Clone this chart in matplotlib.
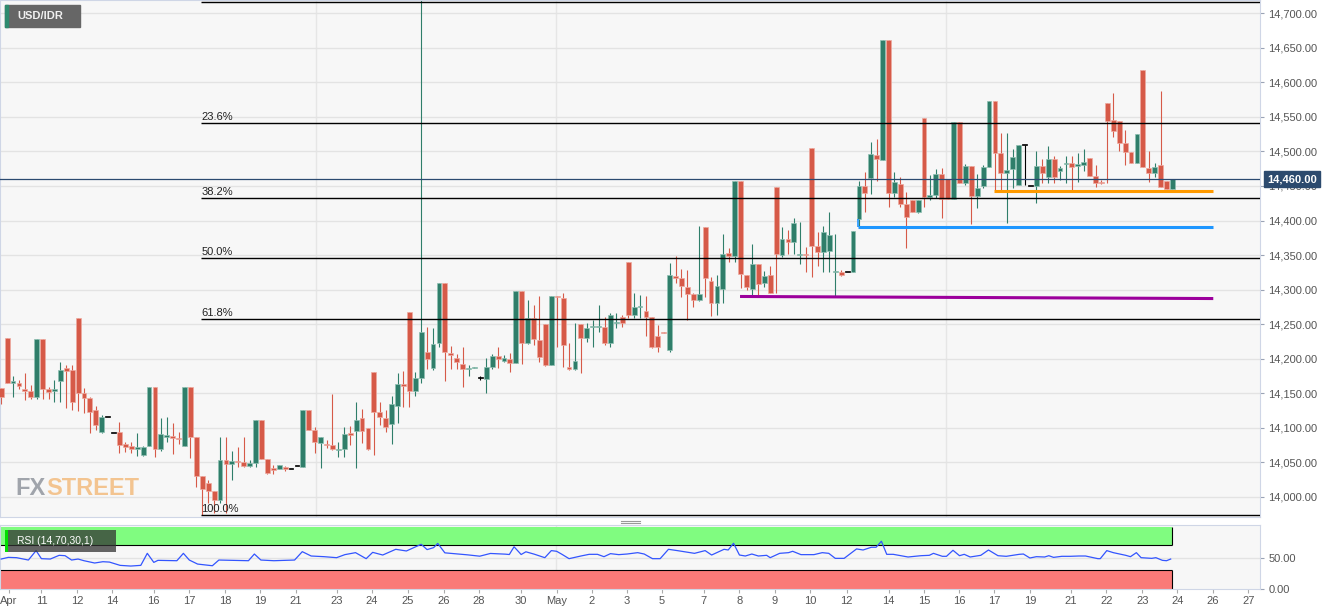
import numpy as np
import matplotlib.pyplot as plt
from matplotlib.patches import Rectangle
from matplotlib.lines import Line2D

plt.rcParams['font.family'] = ['Liberation Sans', 'DejaVu Sans']

# USD/IDR 4H candles, 10 Apr - 23 May
opens = [14157, 14230, 14165, 14165, 14156, 14153, 14144, 14228, 14156, 14153,
         14168, 14186, 14184, 14259, 14150, 14143, 14126, 14094, 14116, 14092,
         14094, 14076, 14073, 14069, 14060, 14073, 14159, 14069, 14087, 14088,
         14085, 14073, 14159, 14087, 14030, 14020, 14008, 13995, 14053, 14047,
         14052, 14050, 14045, 14049, 14111, 14055, 14042, 14040, 14043, 14040,
         14045, 14043, 14126, 14097, 14078, 14076, 14075, 14068, 14069, 14092,
         14095, 14114, 14100, 14181, 14123, 14114, 14105, 14131, 14163, 14268,
         14153, 14172, 14210, 14186, 14223, 14310, 14208, 14201, 14192, 14185,
         14186, 14172, 14171, 14188, 14204, 14197, 14200, 14194, 14298, 14223,
         14259, 14227, 14250, 14191, 14291, 14288, 14188, 14185, 14250, 14230,
         14246, 14246, 14246, 14223, 14252, 14260, 14340, 14263, 14275, 14269,
         14260, 14233, 14239, 14213, 14320, 14317, 14304, 14294, 14285, 14391,
         14312, 14281, 14301, 14353, 14349, 14457, 14321, 14301, 14337, 14310,
         14321, 14449, 14350, 14373, 14369, 14350, 14352, 14505, 14363, 14354,
         14356, 14325, 14325, 14325, 14325, 14402, 14450, 14462, 14495, 14488,
         14661, 14440, 14453, 14424, 14430, 14412, 14548, 14434, 14437, 14467,
         14460, 14431, 14543, 14454, 14479, 14436, 14450, 14478, 14573, 14498,
         14469, 14475, 14451, 14509, 14450, 14450, 14479, 14463, 14489, 14472,
         14482, 14483, 14479, 14480, 14491, 14465, 14456, 14570, 14546, 14544,
         14512, 14499, 14483, 14618, 14476, 14469, 14480, 14457, 14446]
highs = [14157, 14230, 14175, 14169, 14179, 14162, 14228, 14228, 14159, 14169,
         14195, 14191, 14191, 14259, 14157, 14144, 14131, 14118, 14116, 14092,
         14108, 14079, 14079, 14092, 14073, 14159, 14159, 14114, 14116, 14107,
         14094, 14159, 14159, 14087, 14030, 14024, 14008, 14087, 14087, 14066,
         14072, 14087, 14053, 14111, 14111, 14055, 14046, 14046, 14045, 14040,
         14045, 14126, 14126, 14101, 14087, 14082, 14149, 14079, 14101, 14102,
         14137, 14127, 14100, 14181, 14137, 14126, 14146, 14179, 14182, 14268,
         14181, 14780, 14246, 14244, 14310, 14310, 14218, 14207, 14217, 14191,
         14188, 14175, 14201, 14207, 14217, 14205, 14208, 14298, 14298, 14285,
         14278, 14291, 14250, 14291, 14291, 14295, 14223, 14252, 14250, 14252,
         14256, 14278, 14260, 14266, 14266, 14263, 14340, 14295, 14292, 14291,
         14260, 14249, 14239, 14339, 14349, 14330, 14328, 14295, 14392, 14391,
         14318, 14321, 14381, 14360, 14457, 14457, 14321, 14366, 14337, 14327,
         14334, 14449, 14391, 14386, 14404, 14398, 14362, 14505, 14383, 14392,
         14412, 14381, 14328, 14325, 14385, 14457, 14470, 14514, 14518, 14661,
         14661, 14470, 14463, 14441, 14430, 14430, 14548, 14466, 14475, 14476,
         14460, 14543, 14543, 14482, 14479, 14467, 14480, 14573, 14573, 14527,
         14527, 14504, 14509, 14509, 14450, 14501, 14489, 14508, 14493, 14479,
         14493, 14493, 14498, 14504, 14491, 14480, 14459, 14570, 14585, 14544,
         14531, 14499, 14525, 14618, 14501, 14483, 14588, 14457, 14460]
lows = [14134, 14165, 14144, 14156, 14140, 14142, 14142, 14142, 14142, 14137,
        14137, 14129, 14126, 14124, 14121, 14092, 14097, 14092, 14116, 14092,
        14063, 14065, 14063, 14059, 14059, 14073, 14058, 14066, 14079, 14062,
        14076, 14073, 14056, 14014, 13973, 13991, 13977, 13991, 13977, 14024,
        14043, 14043, 14043, 14043, 14055, 14033, 14033, 14040, 14037, 14040,
        14045, 14043, 14097, 14063, 14042, 14071, 14068, 14058, 14058, 14075,
        14042, 14078, 14068, 14061, 14104, 14094, 14076, 14107, 14130, 14130,
        14146, 14165, 14185, 14184, 14217, 14168, 14185, 14185, 14159, 14175,
        14186, 14169, 14150, 14185, 14186, 14195, 14181, 14194, 14192, 14221,
        14220, 14195, 14189, 14191, 14217, 14188, 14184, 14184, 14179, 14224,
        14217, 14239, 14220, 14217, 14244, 14246, 14259, 14259, 14259, 14233,
        14215, 14210, 14237, 14210, 14310, 14289, 14256, 14275, 14284, 14289,
        14262, 14263, 14281, 14340, 14340, 14302, 14299, 14289, 14292, 14304,
        14295, 14295, 14347, 14352, 14352, 14337, 14325, 14318, 14334, 14325,
        14325, 14289, 14320, 14325, 14325, 14391, 14412, 14438, 14457, 14488,
        14420, 14434, 14420, 14360, 14412, 14411, 14420, 14430, 14433, 14404,
        14431, 14431, 14454, 14451, 14395, 14418, 14447, 14478, 14444, 14444,
        14396, 14447, 14451, 14451, 14450, 14425, 14454, 14454, 14454, 14459,
        14454, 14444, 14456, 14472, 14465, 14449, 14453, 14454, 14521, 14501,
        14480, 14483, 14483, 14477, 14456, 14463, 14449, 14446, 14446]
closes = [14144, 14165, 14168, 14160, 14153, 14144, 14228, 14156, 14152, 14156,
          14184, 14182, 14137, 14150, 14143, 14123, 14104, 14116, 14116, 14092,
          14075, 14072, 14069, 14072, 14072, 14159, 14069, 14091, 14089, 14085,
          14084, 14159, 14087, 14030, 14011, 14008, 13995, 14053, 14047, 14052,
          14050, 14045, 14049, 14111, 14055, 14034, 14039, 14046, 14040, 14040,
          14045, 14126, 14097, 14079, 14087, 14075, 14069, 14069, 14091, 14089,
          14111, 14095, 14069, 14123, 14116, 14101, 14134, 14163, 14160, 14153,
          14172, 14239, 14200, 14221, 14310, 14210, 14205, 14195, 14185, 14186,
          14188, 14172, 14188, 14204, 14200, 14201, 14194, 14298, 14223, 14259,
          14228, 14202, 14191, 14291, 14289, 14220, 14185, 14197, 14230, 14244,
          14247, 14247, 14223, 14263, 14253, 14252, 14263, 14275, 14276, 14260,
          14217, 14217, 14237, 14321, 14317, 14305, 14294, 14285, 14294, 14317,
          14281, 14305, 14352, 14349, 14457, 14323, 14304, 14337, 14308, 14320,
          14295, 14352, 14373, 14369, 14396, 14352, 14350, 14363, 14354, 14383,
          14379, 14327, 14321, 14325, 14385, 14450, 14440, 14496, 14489, 14661,
          14440, 14456, 14424, 14405, 14412, 14430, 14434, 14437, 14467, 14431,
          14431, 14543, 14454, 14479, 14436, 14447, 14478, 14573, 14498, 14469,
          14473, 14492, 14509, 14509, 14450, 14479, 14469, 14489, 14463, 14476,
          14483, 14478, 14482, 14485, 14465, 14454, 14454, 14544, 14530, 14512,
          14499, 14483, 14525, 14477, 14469, 14477, 14449, 14446, 14460]

last_price = 14460

# fibonacci retracement
fib_high = 14717
fib_low = 13973
fib_ratios = [0.0, 0.236, 0.382, 0.5, 0.618, 1.0]
fib_labels = ['', '23.6%', '38.2%', '50.0%', '61.8%', '100.0%']
fib_start = 33.8

# support lines (candle index / price)
sup_x0 = [167.8, 144.9, 124.9]
sup_x1 = [204.9, 204.9, 204.9]
sup_y0 = [14443, 14391, 14290]
sup_y1 = [14443, 14391, 14287]
sup_colors = ['#ff9a00', '#1e96ff', '#9c009c']

# RSI(14) readings
rsi_x = [0, 1.2, 2.6, 4.6, 5.9, 6.8, 8.3, 9.8, 10.8, 11.9,
         13.0, 14.0, 15.8, 17.2, 18.3, 20.1, 21.9, 23.6, 24.7, 25.8,
         26.5, 29.7, 30.8, 31.8, 33.2, 35.7, 36.8, 41.8, 42.8, 43.9,
         46.1, 49.6, 50.9, 52.4, 54.6, 56.7, 58.1, 59.9, 61.7, 62.8,
         64.5, 66.7, 68.5, 71.0, 72.0, 73.1, 73.8, 75.0, 77.4, 78.8,
         80.9, 82.7, 85.2, 85.9, 86.7, 87.9, 88.7, 90.1, 91.9, 93.0,
         93.9, 94.8, 96.0, 98.0, 99.4, 100.8, 101.9, 103.0, 104.4, 105.8,
         107.6, 108.7, 110.1, 111.4,
         112.8, 114.3, 117.2, 119.0, 120.1, 122.2, 122.9, 123.8, 124.8, 125.8,
         126.9, 128.0, 129.4, 130.0, 131.6, 133.1, 133.8, 135.2, 137.4, 138.8,
         139.9, 141.0, 142.5, 144.6, 145.7, 147.1, 147.9, 148.8, 149.7, 150.8,
         153.3, 155.5, 156.9, 157.6, 159.1, 159.8, 160.9, 162.0, 162.8, 163.8,
         165.6, 166.9, 168.5, 169.9, 172.1, 172.8, 173.9, 175.0, 176.4, 177.1,
         177.9, 179.3, 180.7, 182.2, 183.3, 185.4, 185.8, 186.9, 188.0, 190.1,
         190.9, 191.9, 192.7, 194.5, 195.2, 196.3, 197.0, 197.7]
rsi_val = [47.8, 50.5, 50.0, 46.2, 61.4, 48.4, 47.8, 53.8, 53.2, 46.2,
           47.8, 45.1, 41.4, 43.5, 42.9, 37.6, 36.5, 37.6, 57.0, 42.4,
           45.7, 45.1, 57.0, 46.2, 39.7, 37.0, 46.2, 45.1, 55.9, 46.2,
           45.1, 46.2, 59.7, 52.7, 51.6, 50.0, 54.9, 58.1, 48.4, 58.6,
           54.3, 63.5, 60.8, 71.6, 63.0, 66.2, 73.0, 57.8, 55.7, 54.6,
           52.4, 56.8, 55.7, 55.1, 67.6, 55.1, 59.5, 55.7, 50.0, 61.4,
           60.3, 55.4, 48.4, 52.7, 55.4, 55.4, 51.6, 56.5, 54.9, 55.9,
           58.1, 55.9, 48.4, 48.4,
           63.5, 61.4, 57.0, 61.4, 54.3, 63.5, 62.4, 73.2, 54.3, 52.7,
           55.9, 52.7, 53.8, 50.0, 57.0, 58.1, 60.3, 54.9, 54.9, 58.1,
           57.0, 48.9, 48.9, 64.1, 62.4, 66.8, 66.8, 76.5, 55.4, 55.4,
           51.1, 53.2, 53.8, 57.0, 52.2, 52.2, 61.9, 53.2, 55.4, 51.1,
           53.8, 62.4, 53.2, 52.2, 55.4, 55.9, 49.5, 51.6, 51.1, 53.2,
           50.5, 52.2, 52.2, 52.7, 52.7, 48.4, 48.4, 61.4, 58.1, 53.8,
           51.6, 58.1, 50.0, 48.9, 50.0, 45.7, 45.1, 47.8]
rsi_end = 197.9

xtick_labels = ['Apr', '11', '12', '14', '16', '17', '18', '19', '21', '23', '24', '25',
                '26', '28', '30', 'May', '2', '3', '5', '7', '8', '9', '10', '12', '14',
                '15', '16', '17', '19', '21', '22', '23', '24', '26', '27']
xtick_pos = [1.3, 6.8, 12.8, 18.7, 25.8, 31.8, 37.9, 43.8, 49.8, 56.7, 62.7, 68.7,
             74.8, 80.8, 87.8, 93.9, 99.8, 105.8, 111.7, 118.8, 124.8, 130.8, 136.8, 142.9, 150.0,
             156.0, 162.0, 167.8, 174.0, 180.8, 186.8, 192.9, 198.8, 204.8, 210.8]
vgrid = [53.2, 93.8, 159.7]

GREEN = '#2f7e6a'
RED = '#d65a48'
AXC = '#cfd6e6'

fig = plt.figure(figsize=(13.31, 6.15), dpi=100)
ax = fig.add_axes([0.0, 0.16016, 0.94666, 0.83984])
ax2 = fig.add_axes([0.0, 0.04179, 0.94666, 0.10455])

xmin, xmax = -0.2, 212.8

# ---- price panel ----
ax.set_facecolor('#f7f7f7')
ax.set_xlim(xmin, xmax)
ax.set_ylim(13971.4, 14719.3)
ax.set_yticks(np.arange(14000, 14701, 50))
ax.yaxis.set_major_formatter(plt.FuncFormatter(lambda v, p: f'{v:,.2f}'))
ax.yaxis.tick_right()
ax.tick_params(axis='y', length=3, color='#9aa3b5', labelsize=8, labelcolor='#555555', pad=3)
ax.set_xticks([])
ax.grid(axis='y', color='#e3e3e3', lw=1, zorder=0)
ax.set_axisbelow(True)
for v in vgrid:
    ax.axvline(v, color='#e6e6e6', lw=1, zorder=0)
for s in ax.spines.values():
    s.set_color(AXC)

# watermark (behind the candles)
fx = ax.text(0.0119, 0.0416, 'FX', transform=ax.transAxes, fontsize=17, fontweight='bold',
             color='#a0a4ab', va='baseline', ha='left', zorder=1)
ax.annotate('STREET', xy=(1, 0), xycoords=fx, xytext=(0.5, 0), textcoords='offset points',
            fontsize=17, fontweight='bold', color='#f3c490', va='bottom', ha='left', zorder=1)

o = np.array(opens); h = np.array(highs); l = np.array(lows); c = np.array(closes)
idx = np.arange(len(o))
cols = np.where(c > o, GREEN, np.where(c < o, RED, 'black'))
edges = np.where(c > o, '#8fc0b2', np.where(c < o, '#eeaaa0', 'black'))
ax.vlines(idx, l, h, colors=cols, lw=0.8, zorder=2)
body = np.maximum(np.abs(c - o), 1.2)
ax.bar(idx, body, bottom=np.minimum(o, c), width=0.82, color=cols,
       edgecolor=edges, linewidth=0.5, zorder=3)

# fibonacci levels
for r, lab in zip(fib_ratios, fib_labels):
    lvl = fib_high - r * (fib_high - fib_low)
    ax.hlines(lvl, fib_start, xmax, color='black', lw=1.0, zorder=4)
    if lab:
        ax.text(fib_start, lvl + 1.5, lab, fontsize=8, color='#222222',
                ha='left', va='bottom', zorder=4)

# support lines
for x0, x1, y0, y1, col in zip(sup_x0, sup_x1, sup_y0, sup_y1, sup_colors):
    ax.plot([x0, x1], [y0, y1], color=col, lw=2.2, solid_capstyle='butt', zorder=5)
ax.vlines(sup_x0[1], sup_y0[1], 14402, color=sup_colors[1], lw=1.2, zorder=5)

# last price
ax.axhline(last_price, color='#2b4a70', lw=0.9, zorder=5)
ax.annotate(f'{last_price:,.2f}', xy=(1, last_price), xycoords=('axes fraction', 'data'),
            xytext=(5.3, 0), textcoords='offset points', ha='left', va='center',
            fontsize=8, fontweight='bold', color='white', annotation_clip=False, zorder=10,
            bbox=dict(boxstyle='square,pad=0.3', fc='#2c4a6e', ec='#2c4a6e'))

# symbol tag
ax.add_patch(Rectangle((0.00397, 0.9477), 0.0595, 0.0426, transform=ax.transAxes,
                       color='#666666', zorder=6))
ax.add_patch(Rectangle((0.00397, 0.9477), 0.0022, 0.0426, transform=ax.transAxes,
                       color='#2e8a6e', zorder=7))
ax.text(0.0135, 0.969, 'USD/IDR', transform=ax.transAxes, fontsize=8, fontweight='bold',
        color='#f0f0f0', va='center', ha='left', zorder=8)

# ---- RSI panel ----
ax2.set_facecolor('#f7f7f7')
ax2.set_xlim(xmin, xmax)
ax2.set_ylim(-1, 102.7)
ax2.fill_between([xmin, rsi_end], 70, 100, color='#80fc80', lw=0, zorder=1)
ax2.fill_between([xmin, rsi_end], 0, 30, color='#fa7a78', lw=0, zorder=1)
ax2.hlines([70, 30], xmin, rsi_end, color='black', lw=0.8, zorder=2)
ax2.vlines([rsi_end, rsi_end], [0, 70], [30, 100], color='black', lw=0.8, zorder=2)
ax2.axhline(50, color='#e3e3e3', lw=1, zorder=0)
ax2.axvline(vgrid[1], color='#e6e6e6', lw=1, zorder=0)
ax2.plot(rsi_x, rsi_val, color='#3355ff', lw=0.9, zorder=3)
ax2.yaxis.tick_right()
ax2.set_yticks([0, 50])
ax2.set_yticklabels(['0.00', '50.00'])
ax2.tick_params(axis='y', length=3, color='#9aa3b5', labelsize=8, labelcolor='#555555', pad=3)
ax2.set_xticks(xtick_pos)
ax2.set_xticklabels(xtick_labels)
ax2.tick_params(axis='x', length=3, color='#aaaaaa', labelsize=8, labelcolor='#555555', pad=2)
for s in ax2.spines.values():
    s.set_color(AXC)

ax2.add_patch(Rectangle((0.00397, 0.58), 0.0881, 0.3422, transform=ax2.transAxes,
                        color='#333333', alpha=0.75, lw=0, zorder=6))
ax2.add_patch(Rectangle((0.00397, 0.58), 0.0022, 0.3422, transform=ax2.transAxes,
                        color='#00dd00', lw=0, zorder=7))
ax2.text(0.0135, 0.751, 'RSI (14,70,30,1)', transform=ax2.transAxes, fontsize=7.5,
         color='white', va='center', ha='left', zorder=8)

# panel splitter handle
for yy in (0.1533, 0.1496):
    fig.add_artist(Line2D([0.4666, 0.4808], [yy, yy], transform=fig.transFigure,
                          color='#999999', lw=0.8))

fig.savefig('out.png', dpi=100, facecolor='white')
